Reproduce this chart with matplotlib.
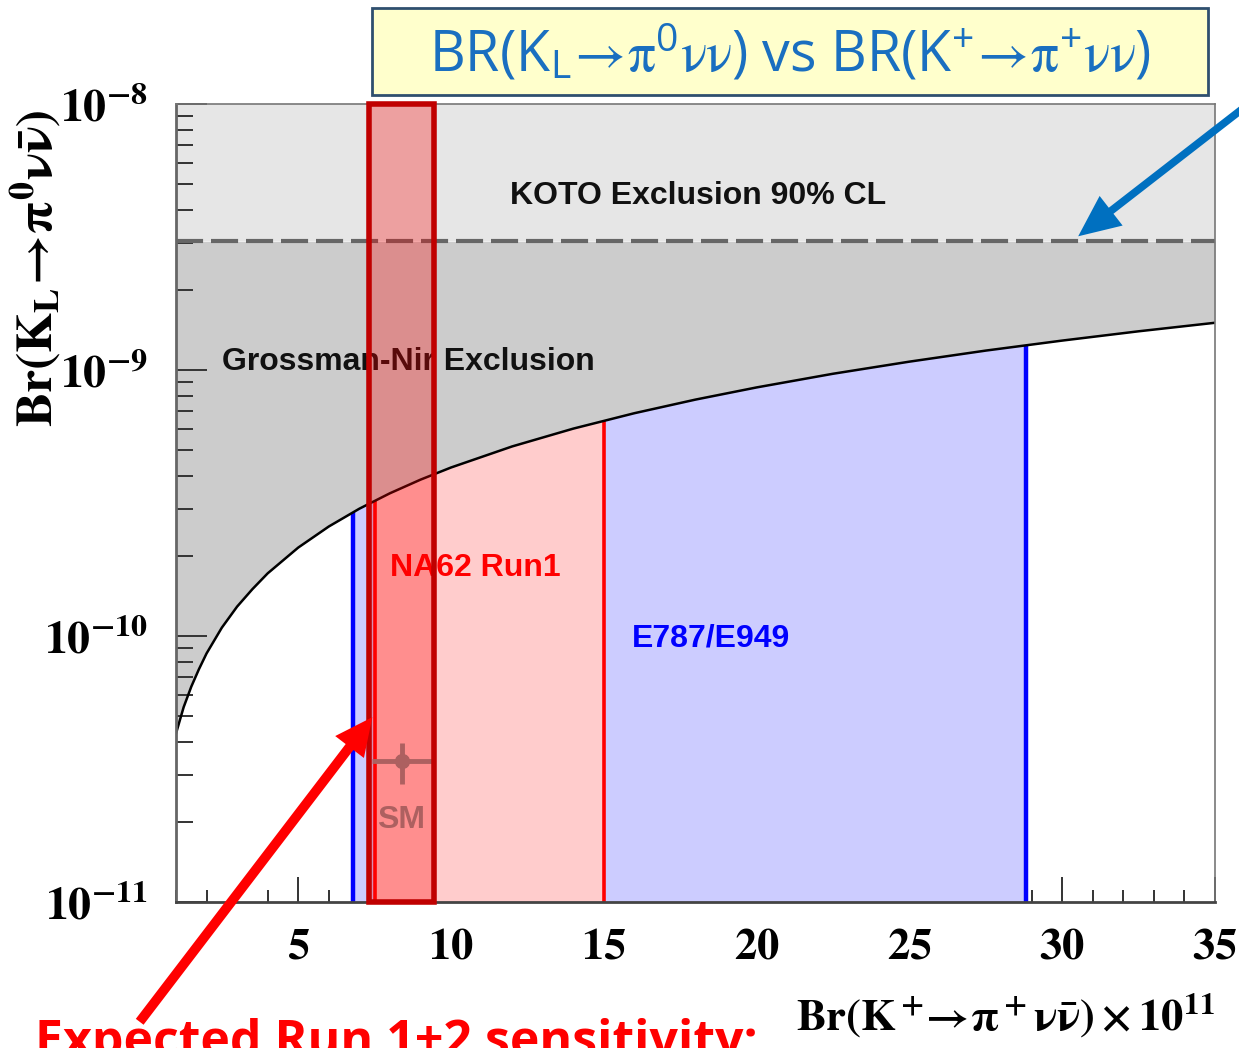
import matplotlib.pyplot as plt
import numpy as np
from matplotlib.patches import Rectangle, Polygon, FancyArrowPatch
from matplotlib.ticker import FixedLocator, FuncFormatter, LogLocator, MultipleLocator

plt.rcParams['mathtext.fontset'] = 'stix'

# Grossman-Nir bound (x and y both in units of 1e-11)
gn_x = [1, 1.25, 1.5, 1.75, 2, 2.5, 3, 3.5, 4, 5, 6, 7, 8, 9, 10, 12, 14, 16, 18, 20,
        22.5, 25, 27.5, 30, 32.5, 35]
gn_y = [4.3, 5.4, 6.45, 7.5, 8.6, 10.75, 12.9, 15.0, 17.2, 21.5, 25.8, 30.1, 34.4, 38.7,
        43.0, 51.6, 60.2, 68.8, 77.4, 86.0, 96.8, 107.5, 118.3, 129.0, 139.8, 150.5]
koto_limit = 305.0
e949_range = [6.8, 28.8]
na62_range = [7.5, 15.0]
run12_range = [7.3, 9.45]
sm_x, sm_xerr = 8.4, 1.0
sm_y, sm_yerr_lo, sm_yerr_hi = 3.4, 0.63, 0.55

sc = 1e-11
gy = np.array(gn_y) * sc

fig = plt.figure(figsize=(12.39, 10.48), dpi=100)
ax = fig.add_axes([176/1239, 1-902/1048, (1215-176)/1239, (902-104)/1048])
ax.set_yscale('log')
ax.set_xlim(1, 35)
ax.set_ylim(1e-11, 1e-8)

under = Polygon([(gn_x[0], 1e-11)] + list(zip(gn_x, gy)) + [(gn_x[-1], 1e-11)],
                closed=True, transform=ax.transData)

ax.axhspan(koto_limit*sc, 1e-8, color='#e6e6e6', lw=0, zorder=1)
ax.fill_between(gn_x, gy, koto_limit*sc, color='#cccccc', lw=0, zorder=1)

b = ax.axvspan(e949_range[0], e949_range[1], color='#ccccff', lw=0, zorder=2)
b.set_clip_path(under)
r = ax.axvspan(na62_range[0], na62_range[1], color='#ffcccc', lw=0, zorder=2)
r.set_clip_path(under)
for xv in e949_range:
    l = ax.axvline(xv, color='#0000ff', lw=3.2, zorder=3)
    l.set_clip_path(under)
for xv in na62_range:
    l = ax.axvline(xv, color='#ff0000', lw=2.6, zorder=3)
    l.set_clip_path(under)

ax.plot(gn_x, gy, color='black', lw=1.8, zorder=4)
ax.axhline(koto_limit*sc, color='#666666', lw=3, dashes=(6.5, 1.9), zorder=4)

ax.text(18.1, 4.5e-9, 'KOTO Exclusion 90% CL', fontsize=23, fontweight='bold',
        family='Liberation Sans', ha='center', va='center', color='#111111', zorder=5)
ax.text(2.5, 1.07e-9, 'Grossman-Nir Exclusion', fontsize=23, fontweight='bold',
        family='Liberation Sans', ha='left', va='center', color='#111111', zorder=5)
ax.text(10.8, 1.8e-10, 'NA62 Run1', fontsize=23, fontweight='bold',
        family='Liberation Sans', ha='center', va='center', color='#ff0000', zorder=5)
ax.text(18.5, 9.8e-11, 'E787/E949', fontsize=23, fontweight='bold',
        family='Liberation Sans', ha='center', va='center', color='#0000ff', zorder=5)

ax.errorbar([sm_x], [sm_y*sc], xerr=[[sm_xerr], [sm_xerr]],
            yerr=[[sm_yerr_lo*sc], [sm_yerr_hi*sc]],
            fmt='o', color='#8a8a8a', ms=10, elinewidth=3.5, capsize=0, zorder=5)
ax.text(8.35, 2.03e-11, 'SM', fontsize=23, fontweight='bold', family='Liberation Sans',
        ha='center', va='center', color='#8a8a8a', zorder=5)

box = Rectangle((run12_range[0], 1e-11), run12_range[1]-run12_range[0], 1e-8-1e-11,
                facecolor=(1, 0, 0, 0.3), edgecolor='#c00000', lw=4, zorder=6, clip_on=False)
ax.add_patch(box)

ax.xaxis.set_major_locator(MultipleLocator(5))
ax.xaxis.set_minor_locator(MultipleLocator(1))
ax.yaxis.set_major_locator(FixedLocator([1e-11, 1e-10, 1e-9, 1e-8]))
ax.yaxis.set_minor_locator(LogLocator(base=10, subs=np.arange(2, 10)))
ax.xaxis.set_major_formatter(FuncFormatter(lambda v, p: r'$\mathbf{%d}$' % v))
ax.yaxis.set_major_formatter(FuncFormatter(lambda v, p: r'$\mathbf{10^{%d}}$' % round(np.log10(v))))
ax.yaxis.set_minor_formatter(FuncFormatter(lambda v, p: ''))
ax.tick_params(which='both', direction='in', top=False, right=False, color='#333333', width=1.4)
ax.tick_params(which='major', axis='x', length=18, pad=16, labelsize=32)
ax.tick_params(which='minor', axis='x', length=9)
ax.tick_params(which='major', axis='y', length=22, pad=20, labelsize=33)
ax.tick_params(which='minor', axis='y', length=12)
for s in ['top', 'right']:
    ax.spines[s].set_color('#777777')
    ax.spines[s].set_linewidth(1.2)
ax.spines['left'].set_color('#666666')
ax.spines['left'].set_linewidth(2)
ax.spines['bottom'].set_color('#444444')
ax.spines['bottom'].set_linewidth(2)
for s in ax.spines.values():
    s.set_zorder(5)

fig.text(36/1239, 1-268/1048, r'$\mathbf{Br(K_L\!\rightarrow\!π^0νν̄)}$',
         rotation=90, fontsize=37, ha='center', va='center')
fig.text(1215/1239, 1-1016/1048, r'$\mathbf{Br(K^+\!\!\rightarrow\!π^+νν̄)\times10^{11}}$',
         fontsize=32, ha='right', va='center')

fig.patches.append(Rectangle((372/1239, 1-95/1048), (1208-372)/1239, 87/1048,
                             transform=fig.transFigure, facecolor='#ffffcc',
                             edgecolor='#2f4f6f', lw=2))
fig.text(790/1239, 1-55/1048,
         r'BR(K$_\mathregular{L}\!\rightarrow\!\mathrm{π}^\mathregular{0}\mathrm{νν}$) vs '
         r'BR(K$^\mathregular{+}\!\rightarrow\!\mathrm{π}^\mathregular{+}\mathrm{νν}$)',
         fontsize=40, family='Open Sans', color='#1a6fc0',
         ha='center', va='center')

fig.text(35/1239, -8/1048, 'Expected Run 1+2 sensitivity:', fontsize=36, fontweight='bold',
         family='Open Sans', color='#ff0000', ha='left', va='baseline')

fig.patches.append(FancyArrowPatch((1250, 1048-103), (1076, 1048-238), transform=None,
                                   arrowstyle='simple,head_length=3.0,head_width=2.7,tail_width=0.55',
                                   mutation_scale=10, facecolor='#0070c0', lw=0))
fig.patches.append(FancyArrowPatch((138, 1048-1024), (374, 1048-715), transform=None,
                                   arrowstyle='simple,head_length=2.7,head_width=2.6,tail_width=0.7',
                                   mutation_scale=10, facecolor='#ff0000', lw=0))

plt.savefig('out.png', dpi=100)
